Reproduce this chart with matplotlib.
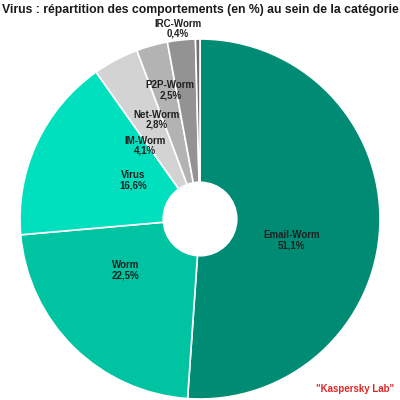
import numpy as np
import matplotlib.pyplot as plt

plt.rcParams['font.family'] = ['Liberation Sans', 'DejaVu Sans']

categories = ["Email-Worm", "Worm", "Virus", "IM-Worm", "Net-Worm", "P2P-Worm", "IRC-Worm"]
values = [51.1, 22.5, 16.6, 4.1, 2.8, 2.5, 0.4]
colors = ["#008c74", "#00c3a2", "#00e0bf", "#d3d3d3", "#b3b3b3", "#939393", "#707070"]
# label placement: radial distance and angle tweak (degrees) for each slice
label_r = [0.52, 0.50, 0.43, 0.51, 0.60, 0.735, 1.065]
label_da = [-11, -11, -5, 9, 8, 7, 6]

fig = plt.figure(figsize=(4, 4), dpi=100)
ax = fig.add_axes([0.05, 0.0025, 0.9, 0.9])
wedges, _ = ax.pie(values, colors=colors, startangle=90, counterclock=False,
                   radius=1.0, wedgeprops=dict(edgecolor="white", linewidth=1.2))
ax.add_patch(plt.Circle((0, 0), 0.205, color="white", zorder=3))
ax.set_xlim(-1, 1)
ax.set_ylim(-1, 1)
ax.set_aspect("equal")
ax.axis("off")

for w, cat, v, r, da in zip(wedges, categories, values, label_r, label_da):
    ang = np.deg2rad((w.theta1 + w.theta2) / 2 + da)
    ax.text(r * np.cos(ang), r * np.sin(ang), cat + "\n" + ("%.1f%%" % v).replace(".", ","),
            ha="center", va="center", fontsize=7, fontweight="bold", color="#202020",
            linespacing=1.0, zorder=4)

fig.text(0.006, 0.975, "Virus : répartition des comportements (en %) au sein de la catégorie",
         ha="left", va="center", fontsize=8.8, fontweight="bold", color="#1a1a1a")
fig.text(0.888, 0.027, '"Kaspersky Lab"', ha="center", va="center",
         fontsize=7, fontweight="bold", color="#e02828")

fig.savefig("out.png", dpi=100)
